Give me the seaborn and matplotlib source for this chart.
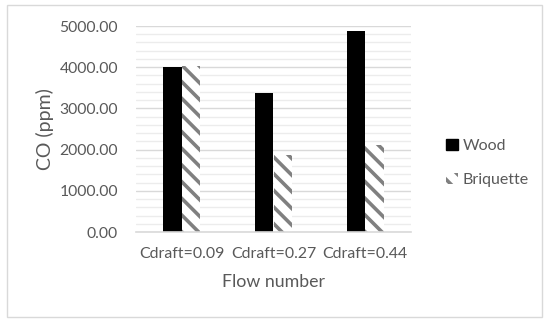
import matplotlib
matplotlib.use("Agg")
import matplotlib.pyplot as plt
import matplotlib.patches as mpatches
from matplotlib.ticker import MultipleLocator, FormatStrFormatter
import seaborn as sns
import pandas as pd

categories = ["Cdraft=0.09", "Cdraft=0.27", "Cdraft=0.44"]
wood = [4010, 3370, 4880]
briquette = [4020, 1870, 2110]
series_names = ["Wood", "Briquette"]

df = pd.DataFrame({
    "Flow number": categories * 2,
    "CO (ppm)": wood + briquette,
    "Fuel": [series_names[0]] * 3 + [series_names[1]] * 3,
})

sns.set_theme(style="white")
plt.rcParams["font.family"] = ["Lato", "DejaVu Sans"]
plt.rcParams["hatch.linewidth"] = 2.6
plt.rcParams["hatch.color"] = "#808080"

text_color = "#595959"
fig = plt.figure(figsize=(5.5, 3.24), dpi=100)
ax = fig.add_axes([136 / 550, 1 - 232 / 324, 275 / 550, (232 - 26) / 324])

sns.barplot(data=df, x="Flow number", y="CO (ppm)", hue="Fuel",
            palette={"Wood": "black", "Briquette": "white"},
            width=0.4, gap=0, ax=ax, legend=False, linewidth=0,
            saturation=1)

for bar in ax.containers[1]:
    bar.set_hatch("\\\\")
    bar.set_edgecolor("#808080")
    bar.set_linewidth(0)

ax.set_ylim(0, 5000)
ax.set_xlim(-0.5, 2.5)
ax.yaxis.set_major_locator(MultipleLocator(1000))
ax.yaxis.set_minor_locator(MultipleLocator(200))
ax.yaxis.set_major_formatter(FormatStrFormatter("%.2f"))
ax.grid(True, which="major", axis="y", color="#d9d9d9", linewidth=1.0)
ax.grid(True, which="minor", axis="y", color="#ececec", linewidth=1.0)
ax.set_axisbelow(True)
for s in ["top", "right", "left"]:
    ax.spines[s].set_visible(False)
ax.spines["bottom"].set_color("#d9d9d9")
ax.spines["bottom"].set_linewidth(1.2)
ax.tick_params(axis="both", which="both", length=0, colors=text_color)
ax.tick_params(axis="y", pad=13, labelsize=11.3)
ax.tick_params(axis="x", pad=11, labelsize=11.4)
ax.set_xlabel("Flow number", fontsize=12.8, color=text_color, labelpad=9)
ax.set_ylabel("CO (ppm)", fontsize=14, color=text_color, labelpad=4)

h1 = mpatches.Patch(facecolor="black", edgecolor="black", label="Wood")
h2 = mpatches.Patch(facecolor="white", edgecolor="#808080", hatch="\\\\", linewidth=0, label="Briquette")
fig.legend(handles=[h1, h2], loc="center left", bbox_to_anchor=(432 / 550, 1 - 163 / 324),
           frameon=False, fontsize=11.5, labelcolor=text_color, labelspacing=1.2,
           handlelength=0.7, handleheight=0.7, handletextpad=0.3)

fig.patches.append(mpatches.Rectangle((7 / 550, 1 - 317 / 324), 535 / 550, 312 / 324,
                                      transform=fig.transFigure, fill=False,
                                      edgecolor="#d9d9d9", linewidth=1.0))

fig.savefig("out.png", dpi=100)
